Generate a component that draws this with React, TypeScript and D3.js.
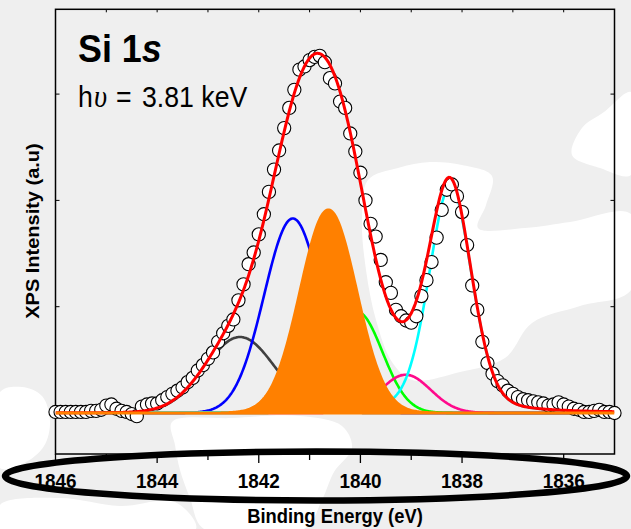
import React from "react";
import * as d3 from "d3";

const W = 631;
const H = 529;

// Scan grid: binding energy (eV)
const energy = [
  1846.0, 1845.9, 1845.8, 1845.7, 1845.6, 1845.5, 1845.4, 1845.3, 1845.2, 1845.1,
  1845.0, 1844.9, 1844.8, 1844.7, 1844.6, 1844.5, 1844.4, 1844.3, 1844.2, 1844.1,
  1844.0, 1843.9, 1843.8, 1843.7, 1843.6, 1843.5, 1843.4, 1843.3, 1843.2, 1843.1,
  1843.0, 1842.9, 1842.8, 1842.7, 1842.6, 1842.5, 1842.4, 1842.3, 1842.2, 1842.1,
  1842.0, 1841.9, 1841.8, 1841.7, 1841.6, 1841.5, 1841.4, 1841.3, 1841.2, 1841.1,
  1841.0, 1840.9, 1840.8, 1840.7, 1840.6, 1840.5, 1840.4, 1840.3, 1840.2, 1840.1,
  1840.0, 1839.9, 1839.8, 1839.7, 1839.6, 1839.5, 1839.4, 1839.3, 1839.2, 1839.1,
  1839.0, 1838.9, 1838.8, 1838.7, 1838.6, 1838.5, 1838.4, 1838.3, 1838.2, 1838.1,
  1838.0, 1837.9, 1837.8, 1837.7, 1837.6, 1837.5, 1837.4, 1837.3, 1837.2, 1837.1,
  1837.0, 1836.9, 1836.8, 1836.7, 1836.6, 1836.5, 1836.4, 1836.3, 1836.2, 1836.1,
  1836.0, 1835.9, 1835.8, 1835.7, 1835.6, 1835.5, 1835.4, 1835.3, 1835.2, 1835.1,
  1835.0,
];

// Measured Si 1s intensity (a.u.)
const intensity = [
  0.01, 0.01, 0.01, 0.01, 0.01, 0.01, 0.01, 0.02, 0.02, 0.03,
  0.07, 0.08, 0.04, 0.02, 0.01, -0.01, -0.03, 0.06, 0.08, 0.09,
  0.09, 0.12, 0.15, 0.18, 0.21, 0.24, 0.29, 0.33, 0.40, 0.45,
  0.51, 0.57, 0.67, 0.75, 0.82, 0.88, 1.06, 1.21, 1.40, 1.51,
  1.68, 1.87, 2.08, 2.29, 2.47, 2.68, 2.87, 3.04, 3.23, 3.26,
  3.32, 3.35, 3.36, 3.30, 3.15, 3.10, 2.93, 2.87, 2.63, 2.46,
  2.26, 2.00, 1.78, 1.66, 1.44, 1.23, 1.13, 0.97, 0.91, 0.87,
  0.85, 0.91, 1.10, 1.25, 1.42, 1.65, 1.91, 2.10, 2.15, 2.04,
  1.89, 1.58, 1.20, 0.97, 0.67, 0.47, 0.37, 0.30, 0.26, 0.21,
  0.18, 0.15, 0.13, 0.12, 0.11, 0.10, 0.09, 0.07, 0.08, 0.10,
  0.08, 0.06, 0.04, 0.03, 0.01, 0.01, 0.02, 0.03, 0.01, 0.01,
  0.00,
];

// Fitted components (pseudo-Voigt): centre (eV), height (a.u.), FWHM (eV), Lorentzian fraction
const peakCenter = [1842.37, 1841.33, 1840.63, 1840.06, 1839.11, 1838.23];
const peakHeight = [0.715, 1.83, 1.91, 0.95, 0.36, 2.14];
const peakFwhm = [1.62, 1.33, 1.30, 1.16, 1.16, 1.0];
const peakEta = [0, 0, 0, 0, 0, 0.25];
const peakColor = ["#404040", "#0000ff", "#ff8000", "#00ff00", "#ff0a8c", "#00ffff"];
const FILLED = 2; // the component drawn as a filled area

// Axis ticks
const xMajor = [1846, 1844, 1842, 1840, 1838, 1836];
const xMinor = [1845, 1843, 1841, 1839, 1837];
const xAll = [1846, 1845, 1844, 1843, 1842, 1841, 1840, 1839, 1838, 1837, 1836, 1835];
const yTicks = [0, 1, 2, 3];

// Light speckled backdrop: white patches over a pale grey page
const bgPatches: [number, number][][] = [
  [[368, 180], [398, 168], [430, 162], [462, 165], [492, 176], [486, 205], [478, 228], [525, 228], [570, 222], [631, 214], [631, 290], [580, 306], [532, 323], [505, 358], [460, 372], [412, 380], [392, 362], [376, 320], [366, 270], [362, 220]],
  [[572, 155], [582, 128], [604, 112], [631, 92], [631, 175], [600, 168]],
  [[0, 392], [22, 387], [42, 396], [50, 422], [44, 446], [26, 462], [0, 468]],
  [[172, 422], [232, 418], [300, 416], [342, 426], [352, 448], [334, 472], [322, 500], [304, 529], [204, 529], [190, 498], [180, 470], [175, 445]],
  [[0, 505], [60, 498], [120, 506], [175, 502], [196, 529], [0, 529]],
];

function pv(e: number, i: number) {
  const d = e - peakCenter[i];
  const w = peakFwhm[i];
  const g = Math.exp((-4 * Math.LN2 * d * d) / (w * w));
  const l = 1 / (1 + (4 * d * d) / (w * w));
  return peakHeight[i] * ((1 - peakEta[i]) * g + peakEta[i] * l);
}

function fit(e: number) {
  let s = 0;
  for (let i = 0; i < peakCenter.length; i++) s += pv(e, i);
  return s;
}

const FONT = "'Liberation Sans', Arial, Helvetica, sans-serif";

function SText(props: {
  x: number;
  y: number;
  size: number;
  sx?: number;
  bold?: boolean;
  italic?: boolean;
  anchor?: "start" | "middle" | "end";
  family?: string;
  rotate?: number;
  children: React.ReactNode;
}) {
  const { x, y, size, sx = 0.92, bold, italic, anchor = "start", family = FONT, rotate = 0 } = props;
  return (
    <text
      transform={`translate(${x},${y}) scale(${sx},1)${rotate ? ` rotate(${rotate})` : ""}`}
      fontSize={size}
      fontFamily={family}
      fontWeight={bold ? "bold" : "normal"}
      fontStyle={italic ? "italic" : "normal"}
      textAnchor={anchor}
      fill="#000"
    >
      {props.children}
    </text>
  );
}

export default function App() {
  const left = 55.5;
  const right = 614.5;
  const top = 9.3;
  const bottom = 454;

  const x = d3.scaleLinear().domain([1846, 1835]).range([left, right]);
  const y = d3.scaleLinear().domain([0, 3]).range([413, 94.1]);

  // Fine sampling for drawing the smooth fitted curves
  const samples = d3.range(0, 551).map((k) => 1846 - k * 0.02);

  const compLine = (i: number) =>
    d3
      .line<number>()
      .x((e) => x(e))
      .y((e) => y(pv(e, i)))(samples) || "";

  const fitPath =
    d3
      .line<number>()
      .x((e) => x(e))
      .y((e) => y(fit(e)))(samples) || "";

  const filledPath =
    d3
      .area<number>()
      .x((e) => x(e))
      .y0(y(0))
      .y1((e) => y(pv(e, FILLED)))(samples) || "";

  const patchLine = d3
    .line<[number, number]>()
    .x((p) => p[0])
    .y((p) => p[1])
    .curve(d3.curveCatmullRomClosed.alpha(0.5));

  const lineOrder = [0, 1, 3, 4, 5];

  return (
    <svg
      width={W}
      height={H}
      viewBox={`0 0 ${W} ${H}`}
      style={{ position: "absolute", left: 0, top: 0, display: "block" }}
    >
      <defs>
        <clipPath id="plotClip">
          <rect x={left} y={top} width={right - left} height={bottom - top} />
        </clipPath>
      </defs>

      <rect x={0} y={0} width={W} height={H} fill="#efefef" />
      {bgPatches.map((p, i) => (
        <path key={i} d={patchLine(p) || ""} fill="#ffffff" />
      ))}

      {/* frame */}
      <rect x={left} y={top} width={right - left} height={bottom - top} fill="none" stroke="#000" strokeWidth={1.5} />

      {/* bottom ticks (outward) */}
      {xMajor.map((t) => (
        <line key={"M" + t} x1={x(t)} x2={x(t)} y1={bottom} y2={bottom + 9} stroke="#000" strokeWidth={1.3} />
      ))}
      {xMinor.map((t) => (
        <line key={"m" + t} x1={x(t)} x2={x(t)} y1={bottom} y2={bottom + 6} stroke="#000" strokeWidth={1.3} />
      ))}
      {/* top ticks (inward) */}
      {xAll.map((t) => (
        <line key={"t" + t} x1={x(t)} x2={x(t)} y1={top} y2={top + 3} stroke="#000" strokeWidth={1} />
      ))}
      {/* left / right ticks */}
      {yTicks.map((t) => (
        <g key={"y" + t}>
          <line x1={left} x2={left + 4} y1={y(t)} y2={y(t)} stroke="#000" strokeWidth={1} />
          <line x1={right} x2={right - 4} y1={y(t)} y2={y(t)} stroke="#000" strokeWidth={1} />
        </g>
      ))}

      {/* fitted components */}
      <g clipPath="url(#plotClip)" fill="none" strokeLinejoin="round">
        {lineOrder.map((i) => (
          <path key={i} d={compLine(i)} stroke={peakColor[i]} strokeWidth={2.6} />
        ))}
      </g>

      {/* measured data */}
      <g>
        {energy.map((e, i) => (
          <circle key={i} cx={x(e)} cy={y(intensity[i])} r={6.6} fill="#fff" stroke="#000" strokeWidth={1.1} />
        ))}
      </g>

      {/* envelope */}
      <g clipPath="url(#plotClip)">
        <path d={fitPath} fill="none" stroke="#ff0000" strokeWidth={3} strokeLinejoin="round" />
        <path d={filledPath} fill={peakColor[FILLED]} stroke={peakColor[FILLED]} strokeWidth={3} />
      </g>

      {/* annotations */}
      <text
        transform="translate(78,62) scale(0.92,1)"
        fontSize={39}
        fontFamily={FONT}
        fontWeight="bold"
      >
        Si 1<tspan fontStyle="italic">s</tspan>
      </text>
      <SText x={78} y={107} size={29}>h</SText>
      <SText x={94} y={107} size={31} italic family="'Liberation Serif', 'DejaVu Serif', serif">υ</SText>
      <SText x={116} y={107} size={29}>=</SText>
      <SText x={142} y={107} size={29}>3.81 keV</SText>

      {/* x tick labels */}
      {xMajor.map((t) => (
        <SText key={"l" + t} x={x(t)} y={488} size={21} sx={0.9} bold anchor="middle">
          {t}
        </SText>
      ))}

      {/* axis titles */}
      <SText x={335} y={523} size={20} bold anchor="middle">
        Binding Energy (eV)
      </SText>
      <SText x={39} y={231} size={20} bold anchor="middle" rotate={-90}>
        XPS Intensity (a.u)
      </SText>

      {/* highlight around the energy axis */}
      <ellipse cx={316} cy={476} rx={311} ry={24.5} fill="none" stroke="#000" strokeWidth={6.5} />
    </svg>
  );
}
